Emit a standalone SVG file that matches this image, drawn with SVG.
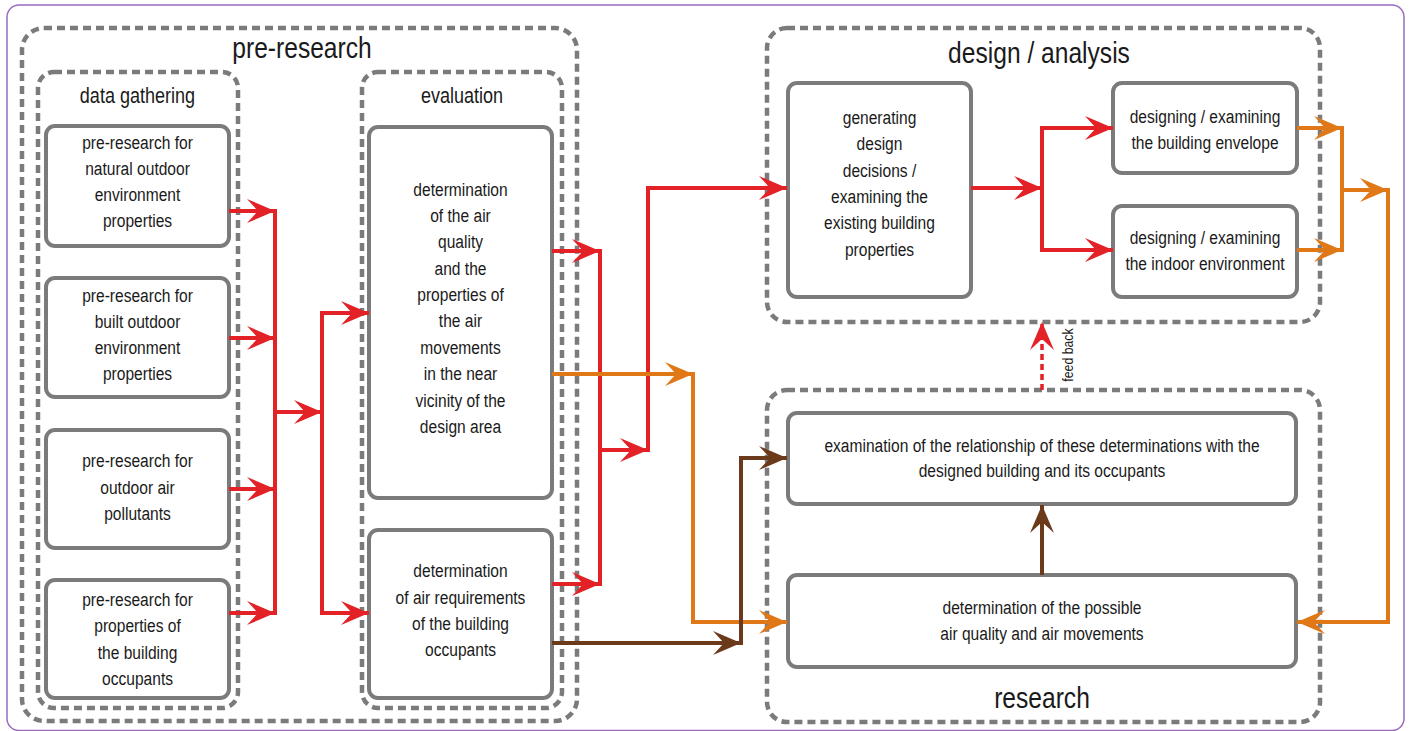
<svg xmlns="http://www.w3.org/2000/svg" width="1410" height="731" viewBox="0 0 1410 731">
  <defs>
    <style>
      .frame { fill: none; stroke: #9a6bbd; stroke-width: 1.5; }
      .group { fill: none; stroke: #7b7b7b; stroke-width: 4.5; stroke-dasharray: 8 5; }
      .node { fill: #ffffff; stroke: #7b7b7b; stroke-width: 4; }
      text { font-family: "Liberation Sans", Arial, sans-serif; fill: #1a1a1a; text-anchor: middle; }
      .big { font-size: 30px; }
      .mid { font-size: 22px; }
      .lbl { font-size: 19px; }
      .small { font-size: 15px; }
      .red { fill: none; stroke: #e32227; stroke-width: 4; }
      .org { fill: none; stroke: #e07818; stroke-width: 4; }
      .brn { fill: none; stroke: #6b3a1a; stroke-width: 4; }
      .fb { fill: none; stroke: #e32227; stroke-width: 3.5; stroke-dasharray: 6 4; }
    </style>
    <marker id="ah-red" viewBox="-30 -14 32 28" refX="0" refY="0" markerWidth="32" markerHeight="28" markerUnits="userSpaceOnUse" orient="auto">
      <path d="M0,0 L-28,-12 L-17,0 L-28,12 Z" fill="#e32227"/>
    </marker>
    <marker id="ah-org" viewBox="-30 -14 32 28" refX="0" refY="0" markerWidth="32" markerHeight="28" markerUnits="userSpaceOnUse" orient="auto">
      <path d="M0,0 L-28,-12 L-17,0 L-28,12 Z" fill="#e07818"/>
    </marker>
    <marker id="ah-brn" viewBox="-30 -14 32 28" refX="0" refY="0" markerWidth="32" markerHeight="28" markerUnits="userSpaceOnUse" orient="auto">
      <path d="M0,0 L-28,-12 L-17,0 L-28,12 Z" fill="#6b3a1a"/>
    </marker>
  </defs>

  <rect width="1410" height="731" fill="#ffffff"/>
  <rect class="frame" x="7" y="5" width="1397" height="725.5" rx="12"/>

  <!-- pre-research stage (text is narrowed horizontally to a condensed face) -->
  <g id="pre-research">
    <rect class="group" x="22" y="28" width="555" height="693" rx="22"/>
    <text class="big" transform="matrix(0.82 0 0 1 302 58)">pre-research</text>
  </g>
  <g id="data-gathering">
    <rect class="group" x="38" y="72" width="200" height="636" rx="16"/>
    <text class="mid" transform="matrix(0.82 0 0 1 137.5 103)">data gathering</text>
  </g>
  <g id="evaluation">
    <rect class="group" x="362" y="72" width="200" height="636" rx="16"/>
    <text class="mid" transform="matrix(0.82 0 0 1 462 103)">evaluation</text>
  </g>

  <g id="natural-outdoor">
    <rect class="node" x="46" y="126" width="183" height="120" rx="9"/>
    <text class="lbl" transform="matrix(0.82 0 0 1 137.5 148.5)">pre-research for</text>
    <text class="lbl" transform="matrix(0.82 0 0 1 137.5 174.5)">natural outdoor</text>
    <text class="lbl" transform="matrix(0.82 0 0 1 137.5 200.5)">environment</text>
    <text class="lbl" transform="matrix(0.82 0 0 1 137.5 226.5)">properties</text>
  </g>
  <g id="built-outdoor">
    <rect class="node" x="46" y="278" width="183" height="119" rx="9"/>
    <text class="lbl" transform="matrix(0.82 0 0 1 137.5 301.5)">pre-research for</text>
    <text class="lbl" transform="matrix(0.82 0 0 1 137.5 327.5)">built outdoor</text>
    <text class="lbl" transform="matrix(0.82 0 0 1 137.5 353.5)">environment</text>
    <text class="lbl" transform="matrix(0.82 0 0 1 137.5 379.5)">properties</text>
  </g>
  <g id="air-pollutants">
    <rect class="node" x="46" y="430" width="183" height="118" rx="9"/>
    <text class="lbl" transform="matrix(0.82 0 0 1 137.5 466.5)">pre-research for</text>
    <text class="lbl" transform="matrix(0.82 0 0 1 137.5 493.5)">outdoor air</text>
    <text class="lbl" transform="matrix(0.82 0 0 1 137.5 519.5)">pollutants</text>
  </g>
  <g id="occupant-properties">
    <rect class="node" x="46" y="580" width="183" height="118" rx="9"/>
    <text class="lbl" transform="matrix(0.82 0 0 1 137.5 605.5)">pre-research for</text>
    <text class="lbl" transform="matrix(0.82 0 0 1 137.5 631.5)">properties of</text>
    <text class="lbl" transform="matrix(0.82 0 0 1 137.5 658.5)">the building</text>
    <text class="lbl" transform="matrix(0.82 0 0 1 137.5 684.5)">occupants</text>
  </g>

  <g id="air-quality-eval">
    <rect class="node" x="369" y="127" width="183" height="371" rx="9"/>
    <text class="lbl" transform="matrix(0.82 0 0 1 460.5 195.5)">determination</text>
    <text class="lbl" transform="matrix(0.82 0 0 1 460.5 221.5)">of the air</text>
    <text class="lbl" transform="matrix(0.82 0 0 1 460.5 247.5)">quality</text>
    <text class="lbl" transform="matrix(0.82 0 0 1 460.5 274.5)">and the</text>
    <text class="lbl" transform="matrix(0.82 0 0 1 460.5 300.5)">properties of</text>
    <text class="lbl" transform="matrix(0.82 0 0 1 460.5 326.5)">the air</text>
    <text class="lbl" transform="matrix(0.82 0 0 1 460.5 353.5)">movements</text>
    <text class="lbl" transform="matrix(0.82 0 0 1 460.5 379.5)">in the near</text>
    <text class="lbl" transform="matrix(0.82 0 0 1 460.5 406.5)">vicinity of the</text>
    <text class="lbl" transform="matrix(0.82 0 0 1 460.5 432.5)">design area</text>
  </g>
  <g id="air-requirements">
    <rect class="node" x="369" y="530" width="183" height="168" rx="9"/>
    <text class="lbl" transform="matrix(0.82 0 0 1 460.5 576.5)">determination</text>
    <text class="lbl" transform="matrix(0.82 0 0 1 460.5 603.5)">of air requirements</text>
    <text class="lbl" transform="matrix(0.82 0 0 1 460.5 629.5)">of the building</text>
    <text class="lbl" transform="matrix(0.82 0 0 1 460.5 655.5)">occupants</text>
  </g>

  <!-- design / analysis stage -->
  <g id="design-analysis">
    <rect class="group" x="767" y="28" width="553" height="294" rx="20"/>
    <text class="big" transform="matrix(0.82 0 0 1 1039 63)">design / analysis</text>
  </g>
  <g id="design-decisions">
    <rect class="node" x="788" y="83" width="183" height="214" rx="9"/>
    <text class="lbl" transform="matrix(0.82 0 0 1 879.5 123.5)">generating</text>
    <text class="lbl" transform="matrix(0.82 0 0 1 879.5 149.5)">design</text>
    <text class="lbl" transform="matrix(0.82 0 0 1 879.5 176.5)">decisions /</text>
    <text class="lbl" transform="matrix(0.82 0 0 1 879.5 202.5)">examining the</text>
    <text class="lbl" transform="matrix(0.82 0 0 1 879.5 228.5)">existing building</text>
    <text class="lbl" transform="matrix(0.82 0 0 1 879.5 255.5)">properties</text>
  </g>
  <g id="building-envelope">
    <rect class="node" x="1113" y="83" width="184" height="90" rx="9"/>
    <text class="lbl" transform="matrix(0.82 0 0 1 1205 122.5)">designing / examining</text>
    <text class="lbl" transform="matrix(0.82 0 0 1 1205 148.5)">the building envelope</text>
  </g>
  <g id="indoor-environment">
    <rect class="node" x="1113" y="206" width="184" height="91" rx="9"/>
    <text class="lbl" transform="matrix(0.82 0 0 1 1205 243.5)">designing / examining</text>
    <text class="lbl" transform="matrix(0.82 0 0 1 1205 269.5)">the indoor environment</text>
  </g>

  <!-- research stage -->
  <g id="research">
    <rect class="group" x="767" y="390" width="553" height="332" rx="20"/>
    <text class="big" transform="matrix(0.82 0 0 1 1042 708)">research</text>
  </g>
  <g id="relationship">
    <rect class="node" x="788" y="413" width="508" height="91" rx="9"/>
    <text class="lbl" transform="matrix(0.82 0 0 1 1042 451.5)">examination of the relationship of these determinations with the</text>
    <text class="lbl" transform="matrix(0.82 0 0 1 1042 476.5)">designed building and its occupants</text>
  </g>
  <g id="possible-air-quality">
    <rect class="node" x="788" y="575" width="508" height="92" rx="9"/>
    <text class="lbl" transform="matrix(0.82 0 0 1 1042 613.5)">determination of the possible</text>
    <text class="lbl" transform="matrix(0.82 0 0 1 1042 639.5)">air quality and air movements</text>
  </g>

  <!-- connectors -->
  <g id="connectors">
    <path class="red" d="M275,209 V615"/>
    <path class="red" d="M229,211 H275" marker-end="url(#ah-red)"/>
    <path class="red" d="M229,338 H275" marker-end="url(#ah-red)"/>
    <path class="red" d="M229,489 H275" marker-end="url(#ah-red)"/>
    <path class="red" d="M229,613 H275" marker-end="url(#ah-red)"/>
    <path class="red" d="M275,412 H322" marker-end="url(#ah-red)"/>
    <path class="red" d="M322,311 V615"/>
    <path class="red" d="M322,313 H369" marker-end="url(#ah-red)"/>
    <path class="red" d="M322,613 H369" marker-end="url(#ah-red)"/>

    <path class="red" d="M600,249 V586"/>
    <path class="red" d="M552,251 H600" marker-end="url(#ah-red)"/>
    <path class="red" d="M552,584 H600" marker-end="url(#ah-red)"/>
    <path class="red" d="M600,450 H648" marker-end="url(#ah-red)"/>
    <path class="red" d="M648,452 V188 H787" marker-end="url(#ah-red)"/>

    <path class="red" d="M971,188 H1042" marker-end="url(#ah-red)"/>
    <path class="red" d="M1042,126 V252"/>
    <path class="red" d="M1042,128 H1113" marker-end="url(#ah-red)"/>
    <path class="red" d="M1042,250 H1113" marker-end="url(#ah-red)"/>

    <path class="org" d="M1297,128 H1342" marker-end="url(#ah-org)"/>
    <path class="org" d="M1297,250 H1342" marker-end="url(#ah-org)"/>
    <path class="org" d="M1342,126 V252"/>
    <path class="org" d="M1342,190 H1388" marker-end="url(#ah-org)"/>
    <path class="org" d="M1388,188 V622 H1297" marker-end="url(#ah-org)"/>
    <path class="org" d="M552,374 H693" marker-end="url(#ah-org)"/>
    <path class="org" d="M693,372 V622 H787" marker-end="url(#ah-org)"/>

    <path class="brn" d="M552,643 H741" marker-end="url(#ah-brn)"/>
    <path class="brn" d="M741,645 V458 H787" marker-end="url(#ah-brn)"/>
    <path class="brn" d="M1042,575 V505" marker-end="url(#ah-brn)"/>

    <path class="fb" d="M1042,390 V322" marker-end="url(#ah-red)"/>
    <text class="small" transform="matrix(0 -0.82 1 0 1073 355)">feed back</text>
  </g>
</svg>
